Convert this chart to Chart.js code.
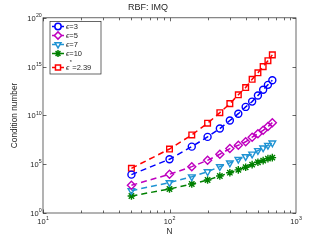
<!DOCTYPE html>
<html lang="en">
<head>
    <meta charset="UTF-8">
    <title>RBF: IMQ</title>
    <style>
        body {
            margin: 0;
            padding: 0;
            background-color: #fff;
        }
    </style>
    <script src="https://cdn.jsdelivr.net/npm/chart.js"></script>
</head>
<body>
    <canvas id="myCanvas" width="327" height="240"></canvas>

    <script>
        // values
        const nValues = [50, 100, 150, 200, 250, 300, 350, 400, 450, 500, 550, 600, 650];
        const condEps3 = [8.5e3, 3.2e5, 6.3e6, 6.3e7, 4.5e8, 3.0e9, 1.5e10, 7.4e10, 2.6e11, 1.1e12, 4.2e12, 1.35e13, 4.0e13];
        const condEps5 = [6.9e2, 9.3e3, 5.6e4, 2.5e5, 1.05e6, 4.0e6, 8.7e6, 2.0e7, 5.8e7, 1.35e8, 3.0e8, 7.1e8, 1.8e9];
        const condEps7 = [1.95e2, 1.3e3, 5.2e3, 1.7e4, 5.6e4, 1.35e5, 3.2e5, 6.0e5, 1.1e6, 2.5e6, 4.7e6, 8.7e6, 1.5e7];
        const condEps10 = [55, 2.9e2, 9.3e2, 2.4e3, 6.2e3, 1.35e4, 2.6e4, 4.9e4, 9.1e4, 1.6e5, 2.3e5, 3.7e5, 4.7e5];
        const condEpsStar = [3.8e4, 3.6e6, 1.0e8, 1.6e9, 1.9e10, 1.6e11, 1.3e12, 7.1e12, 5.0e13, 2.3e14, 1.0e15, 4.0e15, 1.6e16];

        const seriesLabels = ['ϵ=3', 'ϵ=5', 'ϵ=7', 'ϵ=10', 'ϵ*=2.39'];
        const seriesValues = [condEps3, condEps5, condEps7, condEps10, condEpsStar];
        const xTickValues = [10, 100, 1000];
        const yTickValues = [1, 1e5, 1e10, 1e15, 1e20];

        const seriesColors = ['#0000ff', '#bf00bf', '#1f93d3', '#008000', '#ff0000'];
        const seriesMarkers = ['circle', 'rectRot', 'triangle', 'star', 'rect'];
        const seriesRotation = [0, 0, 180, 0, 0];
        const seriesRadius = [3.5, 4, 3.8, 3.8, 4];

        const axisColor = '#262626';
        const fontFamily = "'Liberation Sans', Arial, sans-serif";

        function drawPower(ctx, exponent, x, y, align) {
            const base = '7.5px ' + fontFamily;
            const sup = '5.3px ' + fontFamily;
            ctx.font = base;
            const w1 = ctx.measureText('10').width;
            ctx.font = sup;
            const w2 = ctx.measureText(String(exponent)).width;
            const total = w1 + w2;
            const left = align === 'right' ? x - total : x - total / 2;
            ctx.textAlign = 'left';
            ctx.textBaseline = 'middle';
            ctx.font = base;
            ctx.fillText('10', left, y);
            ctx.font = sup;
            ctx.fillText(String(exponent), left + w1 + 0.3, y - 3.3);
        }

        // MATLAB-like box, inward ticks and power-of-ten labels
        const matlabAxes = {
            id: 'matlabAxes',
            afterDatasetsDraw(chart) {
                const ctx = chart.ctx;
                const xs = chart.scales.x;
                const ys = chart.scales.y;
                const { left, right, top, bottom } = chart.chartArea;

                ctx.save();
                ctx.strokeStyle = axisColor;
                ctx.lineWidth = 0.7;
                ctx.strokeRect(left, top, right - left, bottom - top);

                ctx.beginPath();
                for (let d = xTickValues[0]; d < xTickValues[xTickValues.length - 1]; d *= 10) {
                    for (let k = 1; k <= 9; k++) {
                        const px = Math.round(xs.getPixelForValue(k * d)) + 0.5;
                        const len = k === 1 ? 3.5 : 2.5;
                        ctx.moveTo(px, bottom);
                        ctx.lineTo(px, bottom - len);
                        ctx.moveTo(px, top);
                        ctx.lineTo(px, top + len);
                    }
                }
                yTickValues.forEach(v => {
                    const py = Math.round(ys.getPixelForValue(v)) + 0.5;
                    ctx.moveTo(left, py);
                    ctx.lineTo(left + 3.5, py);
                    ctx.moveTo(right, py);
                    ctx.lineTo(right - 3.5, py);
                });
                ctx.stroke();

                ctx.fillStyle = axisColor;
                xTickValues.forEach(v => {
                    drawPower(ctx, Math.round(Math.log10(v)), xs.getPixelForValue(v), bottom + 8.5, 'center');
                });
                yTickValues.forEach(v => {
                    drawPower(ctx, Math.round(Math.log10(v)), left - 1.5, ys.getPixelForValue(v) + 1, 'right');
                });
                ctx.restore();
            }
        };

        // boxed legend in the upper left corner
        const boxLegend = {
            id: 'boxLegend',
            afterDraw(chart) {
                const ctx = chart.ctx;
                const x0 = 50, y0 = 21.5, w = 51, h = 52.5;
                const rows = [26.5, 35.5, 44.5, 53.5, 67.5];
                ctx.save();
                ctx.fillStyle = '#fff';
                ctx.fillRect(x0, y0, w, h);
                ctx.strokeStyle = axisColor;
                ctx.lineWidth = 0.7;
                ctx.strokeRect(x0, y0, w, h);

                chart.data.datasets.forEach((ds, i) => {
                    const y = rows[i];
                    ctx.strokeStyle = ds.borderColor;
                    ctx.lineWidth = 1.5;
                    ctx.setLineDash([5, 3]);
                    ctx.beginPath();
                    ctx.moveTo(x0 + 2, y);
                    ctx.lineTo(x0 + 14, y);
                    ctx.stroke();
                    ctx.setLineDash([]);
                    const opts = {
                        pointStyle: ds.pointStyle,
                        rotation: ds.pointRotation,
                        radius: ds.pointRadius * 0.9,
                        borderWidth: 1.3
                    };
                    ctx.fillStyle = '#fff';
                    if (Chart.helpers && Chart.helpers.drawPoint) {
                        Chart.helpers.drawPoint(ctx, opts, x0 + 8, y);
                    }

                    ctx.fillStyle = axisColor;
                    ctx.textAlign = 'left';
                    ctx.textBaseline = 'middle';
                    const label = ds.label;
                    const tx = x0 + 16;
                    ctx.font = 'italic 7.5px ' + fontFamily;
                    if (label.indexOf('*') > -1) {
                        const parts = label.split('*');
                        ctx.fillText(parts[0], tx, y);
                        const w0 = ctx.measureText(parts[0]).width;
                        ctx.font = '5.5px ' + fontFamily;
                        ctx.fillText('*', tx + w0 + 0.5, y - 5);
                        ctx.font = '7.5px ' + fontFamily;
                        ctx.fillText(parts[1], tx + w0 + 3, y);
                    } else {
                        const parts = label.split('=');
                        ctx.fillText(parts[0], tx, y);
                        const w0 = ctx.measureText(parts[0]).width;
                        ctx.font = '7.5px ' + fontFamily;
                        ctx.fillText('=' + parts[1], tx + w0, y);
                    }
                });
                ctx.restore();
            }
        };

        const datasets = seriesValues.map((vals, i) => ({
            label: seriesLabels[i],
            data: vals.map((v, j) => ({ x: nValues[j], y: v })),
            borderColor: seriesColors[i],
            backgroundColor: 'rgba(0,0,0,0)',
            pointBorderColor: seriesColors[i],
            pointBackgroundColor: 'rgba(0,0,0,0)',
            pointStyle: seriesMarkers[i],
            pointRotation: seriesRotation[i],
            pointRadius: seriesRadius[i],
            pointBorderWidth: 1.4,
            borderWidth: 1.5,
            borderDash: [6, 4],
            fill: false,
            tension: 0
        }));

        const ctx = document.getElementById('myCanvas').getContext('2d');
        const chart = new Chart(ctx, {
            type: 'line',
            data: { datasets: datasets },
            options: {
                responsive: false,
                animation: false,
                layout: {
                    padding: { left: 0, right: 31, top: 0, bottom: 0 }
                },
                scales: {
                    x: {
                        type: 'logarithmic',
                        min: 10,
                        max: 1000,
                        grid: { display: false },
                        border: { display: false },
                        ticks: { display: false },
                        title: {
                            display: true,
                            text: 'N',
                            color: axisColor,
                            font: { size: 8.3, family: fontFamily },
                            padding: { top: 0, bottom: 3 }
                        },
                        afterFit(scale) { scale.height = 27; }
                    },
                    y: {
                        type: 'logarithmic',
                        min: 1,
                        max: 1e20,
                        grid: { display: false },
                        border: { display: false },
                        ticks: { display: false },
                        title: {
                            display: true,
                            text: 'Condition number',
                            color: axisColor,
                            font: { size: 8.3, family: fontFamily },
                            padding: { top: 10, bottom: 0 }
                        },
                        afterFit(scale) { scale.width = 43; }
                    }
                },
                plugins: {
                    legend: { display: false },
                    tooltip: { enabled: false },
                    title: {
                        display: true,
                        text: 'RBF: IMQ',
                        color: axisColor,
                        font: { size: 9, family: fontFamily, weight: 'normal' },
                        padding: { top: 2, bottom: 5 }
                    }
                }
            },
            plugins: [matlabAxes, boxLegend]
        });
    </script>
</body>
</html>
